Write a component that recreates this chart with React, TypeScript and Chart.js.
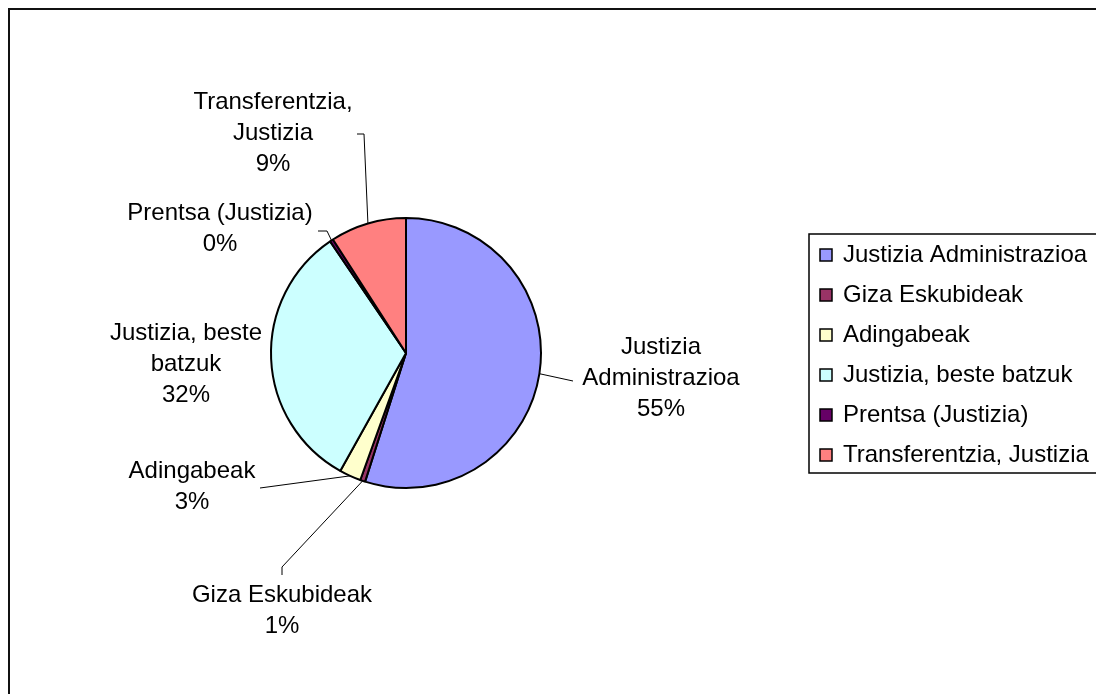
import React, { useEffect, useRef } from "react";
import { Chart, registerables } from "chart.js";

Chart.register(...registerables);

// ---- data ----
const categories = [
  "Justizia Administrazioa",
  "Giza Eskubideak",
  "Adingabeak",
  "Justizia, beste batzuk",
  "Prentsa (Justizia)",
  "Transferentzia, Justizia",
];
const shares = [54.9, 0.6, 2.6, 32.4, 0.4, 9.1];
const sliceColors = ["#9999FF", "#993366", "#FFFFCC", "#CCFFFF", "#660066", "#FF8080"];
const labelLines = [
  ["Justizia", "Administrazioa"],
  ["Giza Eskubideak"],
  ["Adingabeak"],
  ["Justizia, beste", "batzuk"],
  ["Prentsa (Justizia)"],
  ["Transferentzia,", "Justizia"],
];

// ---- layout (relative to pie centre, px) ----
const labelCenterX = [255, -124, -214, -220, -186, -133];
const labelFirstY = [-6, 242, 118, -20, -140, -251];
const leaderPaths: number[][][] = [
  [[167, 28]],
  [[-124, 214], [-124, 222]],
  [[-146, 135]],
  [],
  [[-79, -122], [-88, -122]],
  [[-42, -219], [-49, -219]],
];

const FONT = '24px "Liberation Sans", Arial, sans-serif';
const LINE_H = 31;

const annotate = {
  id: "annotate",
  afterDatasetsDraw(chart: any) {
    const ctx = chart.ctx as CanvasRenderingContext2D;
    const meta = chart.getDatasetMeta(0);
    const data = chart.data.datasets[0].data as number[];
    const total = data.reduce((a, b) => a + b, 0);
    ctx.save();
    ctx.font = FONT;
    ctx.fillStyle = "#000";
    ctx.strokeStyle = "#000";
    ctx.lineWidth = 1;
    meta.data.forEach((arc: any, i: number) => {
      const cx = arc.x;
      const cy = arc.y;
      const mid = (arc.startAngle + arc.endAngle) / 2;
      const path = leaderPaths[i];
      if (path.length) {
        ctx.beginPath();
        ctx.moveTo(cx + arc.outerRadius * Math.cos(mid), cy + arc.outerRadius * Math.sin(mid));
        path.forEach(([px, py]) => ctx.lineTo(cx + px, cy + py));
        ctx.stroke();
      }
      const pct = Math.round((data[i] / total) * 100) + "%";
      const lines = [...labelLines[i], pct];
      ctx.textAlign = "center";
      ctx.textBaseline = "middle";
      lines.forEach((t, k) => {
        ctx.fillText(t, cx + labelCenterX[i], cy + labelFirstY[i] + k * LINE_H);
      });
    });

    // legend
    const lx = 799;
    const ly = 224;
    ctx.lineWidth = 1.5;
    ctx.strokeStyle = "#000";
    ctx.strokeRect(lx, ly, 400, 239);
    ctx.textAlign = "left";
    ctx.textBaseline = "middle";
    categories.forEach((c, i) => {
      const ry = ly + 21 + i * 40;
      ctx.fillStyle = sliceColors[i];
      ctx.fillRect(lx + 11, ry - 6, 12, 12);
      ctx.strokeRect(lx + 11, ry - 6, 12, 12);
      ctx.fillStyle = "#000";
      ctx.fillText(c, lx + 34, ry);
    });
    ctx.restore();
  },
};

export default function App() {
  const ref = useRef<HTMLCanvasElement | null>(null);
  useEffect(() => {
    if (!ref.current) return;
    const chart = new Chart(ref.current, {
      type: "pie",
      data: {
        labels: categories,
        datasets: [
          {
            data: shares,
            backgroundColor: sliceColors,
            borderColor: "#000",
            borderWidth: 2,
            radius: 135,
          } as any,
        ],
      },
      options: {
        responsive: false,
        animation: false,
        events: [],
        layout: { padding: { left: 100, right: 394, top: 100, bottom: 98 } },
        plugins: {
          legend: { display: false },
          tooltip: { enabled: false },
        },
      },
      plugins: [annotate],
    });
    return () => chart.destroy();
  }, []);
  return (
    <div
      style={{
        position: "fixed",
        left: 8,
        top: 8,
        width: 1086,
        height: 684,
        borderLeft: "2px solid #111",
        borderTop: "2px solid #111",
        overflow: "hidden",
        background: "#fff",
      }}
    >
      <canvas ref={ref} width={1086} height={684} style={{ display: "block", width: 1086, height: 684 }} />
    </div>
  );
}
